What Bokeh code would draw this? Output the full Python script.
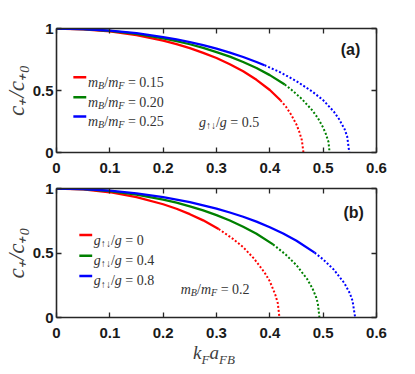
from bokeh.plotting import figure
from bokeh.layouts import column
from bokeh.models import Range1d, LinearAxis, FixedTicker, Label, Arrow, Div
from bokeh.embed import file_html
from bokeh.resources import INLINE

# ---------------- data ----------------
x_ticks = [0, 0.1, 0.2, 0.3, 0.4, 0.5, 0.6]
x_tick_labels = ["0", "0.1", "0.2", "0.3", "0.4", "0.5", "0.6"]
y_ticks = [0, 0.5, 1]
y_tick_labels = ["0", "0.5", "1"]

# panel (a): g_updown/g = 0.5, mB/mF = 0.15, 0.20, 0.25
a_labels = ["0.15", "0.20", "0.25"]
a_red_sx = [0, 0.05, 0.1, 0.15, 0.2, 0.225, 0.25, 0.275, 0.3, 0.325, 0.35, 0.375, 0.4, 0.42]
a_red_sy = [1, 0.994, 0.976, 0.946, 0.902, 0.874, 0.842, 0.804, 0.762, 0.712, 0.655, 0.586, 0.504, 0.421]
a_red_dx = [0.42, 0.43, 0.44, 0.45, 0.455, 0.46, 0.463]
a_red_dy = [0.421, 0.371, 0.305, 0.225, 0.17, 0.10, 0]

a_grn_sx = [0, 0.05, 0.1, 0.15, 0.2, 0.225, 0.25, 0.275, 0.3, 0.325, 0.35, 0.375, 0.4, 0.428]
a_grn_sy = [1, 0.995, 0.981, 0.956, 0.921, 0.898, 0.873, 0.844, 0.810, 0.773, 0.730, 0.681, 0.624, 0.549]
a_grn_dx = [0.428, 0.44, 0.46, 0.48, 0.49, 0.5, 0.505, 0.51, 0.512]
a_grn_dy = [0.549, 0.508, 0.432, 0.338, 0.278, 0.200, 0.150, 0.085, 0]

a_blu_sx = [0, 0.05, 0.1, 0.15, 0.2, 0.225, 0.25, 0.275, 0.3, 0.325, 0.35, 0.375, 0.39]
a_blu_sy = [1, 0.996, 0.983, 0.962, 0.931, 0.912, 0.890, 0.866, 0.838, 0.806, 0.770, 0.730, 0.704]
a_blu_dx = [0.39, 0.42, 0.45, 0.48, 0.5, 0.52, 0.53, 0.54, 0.545, 0.549]
a_blu_dy = [0.704, 0.646, 0.575, 0.490, 0.422, 0.330, 0.268, 0.19, 0.13, 0]

# panel (b): mB/mF = 0.2, g_updown/g = 0, 0.4, 0.8
b_labels = ["0", "0.4", "0.8"]
b_red_sx = [0, 0.05, 0.1, 0.15, 0.2, 0.225, 0.25, 0.275, 0.304]
b_red_sy = [1, 0.993, 0.971, 0.933, 0.878, 0.843, 0.801, 0.753, 0.686]
b_red_dx = [0.304, 0.33, 0.35, 0.37, 0.39, 0.40, 0.41, 0.415, 0.418]
b_red_dy = [0.686, 0.612, 0.545, 0.458, 0.350, 0.280, 0.180, 0.11, 0]

b_grn_sx = [0, 0.05, 0.1, 0.15, 0.2, 0.225, 0.25, 0.275, 0.3, 0.325, 0.35, 0.375, 0.406]
b_grn_sy = [1, 0.995, 0.979, 0.953, 0.914, 0.890, 0.862, 0.830, 0.794, 0.752, 0.704, 0.649, 0.567]
b_grn_dx = [0.406, 0.43, 0.45, 0.47, 0.48, 0.487, 0.49, 0.493]
b_grn_dy = [0.567, 0.487, 0.405, 0.298, 0.225, 0.155, 0.11, 0]

b_blu_sx = [0, 0.05, 0.1, 0.15, 0.2, 0.25, 0.3, 0.325, 0.35, 0.375, 0.4, 0.425, 0.45, 0.484]
b_blu_sy = [1, 0.996, 0.984, 0.963, 0.934, 0.895, 0.844, 0.814, 0.781, 0.743, 0.700, 0.651, 0.595, 0.503]
b_blu_dx = [0.484, 0.5, 0.52, 0.54, 0.55, 0.555, 0.56]
b_blu_dy = [0.503, 0.450, 0.371, 0.265, 0.188, 0.13, 0]

colors = ["#ff0000", "#008000", "#0000ff"]

# ---------------- helpers ----------------
AX_COLOR = "#262626"
TXT_COLOR = "#333333"
TICK_FONT = "'Liberation Sans Narrow', 'Liberation Sans', sans-serif"
MATH_FONT = "'Liberation Serif', serif"
NB = "\u00a0"

WID = {'m': 0.722, 'B': 0.611, 'F': 0.611, 'g': 0.5, 'k': 0.444, 'a': 0.5,
       '/': 0.278, '=': 0.564, NB: 0.25, ' ': 0.25, '.': 0.25, '↑': 0.5, '↓': 0.5}


def tw(text, size):
    return sum(WID.get(ch, 0.5) for ch in text) * size


def math_label(p, x, y, pieces, size, base_off=-5):
    off = 0
    for text, ital, sub in pieces:
        s = size * 0.72 if sub else size
        p.add_layout(Label(x=x, y=y, x_offset=off,
                           y_offset=base_off - (size * 0.22 if sub else 0),
                           text=text, text_font=MATH_FONT,
                           text_font_style="italic" if ital else "normal",
                           text_font_size=f"{s:.1f}px", text_color=TXT_COLOR,
                           text_align="left", text_baseline="alphabetic"))
        off += tw(text, s)


def style_axis(ax, ticks, labels, show_labels=True, standoff=3):
    ax.ticker = FixedTicker(ticks=ticks)
    ax.major_label_overrides = {t: l for t, l in zip(ticks, labels)}
    ax.major_tick_in = 5
    ax.major_tick_out = 0
    ax.major_tick_line_width = 1.3
    ax.major_tick_line_color = AX_COLOR
    ax.minor_tick_line_color = None
    ax.axis_line_width = 1.6
    ax.axis_line_color = AX_COLOR
    ax.major_label_text_font = TICK_FONT
    ax.major_label_text_font_style = "bold"
    ax.major_label_text_color = "#1a1a1a"
    ax.major_label_standoff = standoff
    if show_labels:
        ax.major_label_text_font_size = "15px"
    else:
        ax.major_label_text_font_size = "0px"
        ax.major_label_text_alpha = 0


def make_panel(height, top, bottom, series, legend_pieces, legend_y, legend_x,
               note_pieces, note_xy, tag, tag_xy):
    p = figure(width=407, height=height, output_backend="svg", toolbar_location=None,
               x_range=Range1d(0, 0.6), y_range=Range1d(0, 1),
               min_border_left=53, min_border_right=31,
               min_border_top=top, min_border_bottom=bottom,
               x_axis_location=None, y_axis_location=None)
    p.grid.visible = False
    p.outline_line_color = None
    p.background_fill_color = "white"
    p.border_fill_color = "white"

    bx = LinearAxis(); style_axis(bx, x_ticks, x_tick_labels, True, 10)
    ly = LinearAxis(); style_axis(ly, y_ticks, y_tick_labels, True, 3)
    ly.axis_label = "c₊/c₊₀"
    ly.axis_label_text_font = MATH_FONT
    ly.axis_label_text_font_style = "italic"
    ly.axis_label_text_font_size = "23px"
    ly.axis_label_text_color = "#404040"
    ly.axis_label_standoff = 1
    tx = LinearAxis(); style_axis(tx, x_ticks, x_tick_labels, False)
    ry = LinearAxis(); style_axis(ry, y_ticks, y_tick_labels, False)
    p.add_layout(bx, "below")
    p.add_layout(ly, "left")
    p.add_layout(tx, "above")
    p.add_layout(ry, "right")

    for (sx, sy, dx, dy), c in zip(series, colors):
        p.line(dx, dy, line_color=c, line_width=2, line_dash="2 2")
        p.line(sx, sy, line_color=c, line_width=2.3)

    # legend
    for yy, pieces, c in zip(legend_y, legend_pieces, colors):
        p.add_layout(Arrow(end=None, x_start=legend_x[0], y_start=yy,
                           x_end=legend_x[1], y_end=yy,
                           line_color=c, line_width=2.5))
        math_label(p, legend_x[2], yy, pieces, 14)

    math_label(p, note_xy[0], note_xy[1], note_pieces, 14)

    p.add_layout(Label(x=tag_xy[0], y=tag_xy[1], text=tag, text_font=TICK_FONT,
                       text_font_style="bold", text_font_size="16px",
                       text_color="#1a1a1a", text_baseline="middle", text_align="left"))
    return p


def mB_pieces(v):
    return [("m", True, False), ("B", True, True), ("/", False, False),
            ("m", True, False), ("F", True, True), (NB + "=" + NB + v, False, False)]


def g_pieces(v):
    return [("g", True, False), ("↑↓", False, True), ("/", False, False),
            ("g", True, False), (NB + "=" + NB + v, False, False)]


top = make_panel(
    178, 28, 26,
    [(a_red_sx, a_red_sy, a_red_dx, a_red_dy),
     (a_grn_sx, a_grn_sy, a_grn_dx, a_grn_dy),
     (a_blu_sx, a_blu_sy, a_blu_dx, a_blu_dy)],
    [mB_pieces(v) for v in a_labels], [0.607, 0.446, 0.290], [0.0316, 0.0558, 0.059],
    g_pieces("0.5"), (0.267, 0.285), "(a)", (0.533, 0.83))

bottom = make_panel(
    165, 10, 26,
    [(b_red_sx, b_red_sy, b_red_dx, b_red_dy),
     (b_grn_sx, b_grn_sy, b_grn_dx, b_grn_dy),
     (b_blu_sx, b_blu_sy, b_blu_dx, b_blu_dy)],
    [g_pieces(v) for v in b_labels], [0.639, 0.478, 0.322], [0.0428, 0.0669, 0.070],
    mB_pieces("0.2"), (0.233, 0.257), "(b)", (0.538, 0.817))

xlabel = Div(
    text="<i>k</i><sub style='font-size:13px'><i>F</i></sub>"
         "<i>a</i><sub style='font-size:13px'><i>FB</i></sub>",
    width=407, height=24, margin=(0, 0, 0, 0),
    styles={"font-family": "'Liberation Serif', serif", "font-size": "19px",
            "line-height": "19px", "color": "#404040", "text-align": "center",
            "padding-left": "21px", "padding-top": "0px"})

layout = column(top, bottom, xlabel, spacing=0)
open("out.html", "w").write(file_html(layout, INLINE))
